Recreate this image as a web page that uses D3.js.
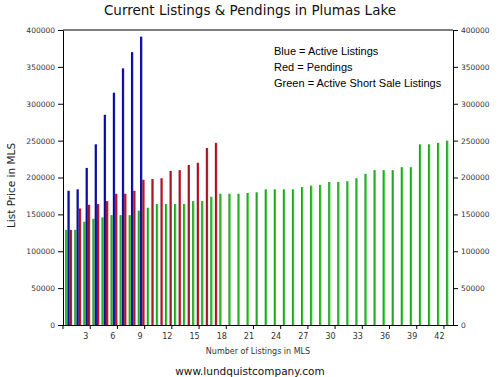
<!DOCTYPE html>
<html>
<head>
<meta charset="utf-8">
<script src="https://cdn.jsdelivr.net/npm/d3@7"></script>
<style>
  body { margin: 0; background: #fff; }
  text { font-family: "DejaVu Sans", sans-serif; }
</style>
</head>
<body>
<div id="chart"></div>
<script>
// listing number on the x axis
const listings = d3.range(1, 44);
const tickLabels = [3, 6, 9, 12, 15, 18, 21, 24, 27, 30, 33, 36, 39, 42];
const yTicks = [0, 50000, 100000, 150000, 200000, 250000, 300000, 350000, 400000];

// list prices
const activeListings = [182000, 184000, 213000, 245000, 285000, 315000, 348000, 370000, 391000];
const pendings = [129000, 158000, 163000, 164000, 168000, 178000, 178000, 182000, 197000,
  198000, 199000, 209000, 210000, 217000, 220000, 240000, 247000];
const shortSales = [129000, 129000, 140000, 144000, 146000, 149000, 149000, 149000, 155000,
  159000, 164000, 164000, 164000, 164000, 168000, 168000, 174000, 178000, 178000, 178000,
  179000, 180000, 184000, 184000, 184000, 184000, 187000, 189000, 190000, 194000, 194000,
  195000, 199000, 205000, 210000, 210000, 210000, 214000, 214000, 245000, 245000, 247000, 250000];

const series = [
  { key: "green", values: shortSales, dark: "#148a14", light: "#44dd44" },
  { key: "blue", values: activeListings, dark: "#000088", light: "#2222bb" },
  { key: "red", values: pendings, dark: "#7a1234", light: "#dd2222" }
];

const W = 500, H = 377;
const plotL = 63, plotR = 453, plotT = 30, plotB = 325;

const svg = d3.select("#chart").append("svg")
  .attr("width", W)
  .attr("height", H);

// gradients for the bars
const defs = svg.append("defs");
series.forEach(s => {
  const g = defs.append("linearGradient")
    .attr("id", "grad-" + s.key)
    .attr("x1", "0%").attr("x2", "100%")
    .attr("y1", "0%").attr("y2", "0%");
  g.append("stop").attr("offset", "0%").attr("stop-color", s.dark);
  g.append("stop").attr("offset", "100%").attr("stop-color", s.light);
});

const x = d3.scaleBand()
  .domain(listings)
  .range([plotL, plotR])
  .padding(0);

const x1 = d3.scaleBand()
  .domain(series.map(s => s.key))
  .range([x.bandwidth() * 0.24, x.bandwidth()])
  .padding(0);

const y = d3.scaleLinear()
  .domain([0, 400000])
  .range([plotB, plotT]);

// bars
series.forEach(s => {
  svg.append("g")
    .selectAll("rect")
    .data(s.values)
    .join("rect")
    .attr("x", (d, i) => x(listings[i]) + x1(s.key))
    .attr("y", d => y(d))
    .attr("width", x1.bandwidth())
    .attr("height", d => y(0) - y(d))
    .attr("fill", "url(#grad-" + s.key + ")");
});

// left axis
const yLeft = svg.append("g")
  .attr("transform", `translate(${plotL},0)`)
  .call(d3.axisLeft(y).tickValues(yTicks).tickFormat(d3.format("d")).tickSize(5).tickSizeOuter(0));
// right axis
const yRight = svg.append("g")
  .attr("transform", `translate(${plotR},0)`)
  .call(d3.axisRight(y).tickValues(yTicks).tickFormat(d3.format("d")).tickSize(5).tickSizeOuter(0));

[yLeft, yRight].forEach(a => {
  a.selectAll("text")
    .style("font-family", "'DejaVu Sans', sans-serif")
    .style("font-size", "7.5px")
    .attr("fill", "#333");
  a.select(".domain").attr("stroke", "#000");
});

// top border
svg.append("line")
  .attr("x1", plotL).attr("x2", plotR)
  .attr("y1", plotT).attr("y2", plotT)
  .attr("stroke", "#000");

// x axis: ticks at right edge of group, labels at group centre
const xAxis = svg.append("g");
xAxis.append("line")
  .attr("x1", plotL).attr("x2", plotR)
  .attr("y1", plotB + 0.5).attr("y2", plotB + 0.5)
  .attr("stroke", "#000");
xAxis.selectAll(".tk")
  .data(tickLabels)
  .join("line")
  .attr("class", "tk")
  .attr("x1", d => x(d) + x.bandwidth())
  .attr("x2", d => x(d) + x.bandwidth())
  .attr("y1", plotB)
  .attr("y2", plotB + 4)
  .attr("stroke", "#000");
xAxis.append("line")
  .attr("x1", plotL).attr("x2", plotL)
  .attr("y1", plotB).attr("y2", plotB + 4)
  .attr("stroke", "#000");
xAxis.selectAll(".lb")
  .data(tickLabels)
  .join("text")
  .attr("class", "lb")
  .attr("x", d => x(d) + x.bandwidth() / 2)
  .attr("y", plotB + 14)
  .attr("text-anchor", "middle")
  .attr("fill", "#333")
  .style("font-size", "8px")
  .text(d => d);

// titles
svg.append("text")
  .attr("x", 250).attr("y", 15)
  .attr("text-anchor", "middle")
  .style("font-size", "13.5px")
  .attr("fill", "#111")
  .text("Current Listings & Pendings in Plumas Lake");

svg.append("text")
  .attr("transform", `translate(15,${(plotT + plotB) / 2 + 8}) rotate(-90)`)
  .attr("text-anchor", "middle")
  .style("font-size", "10.5px")
  .attr("fill", "#222")
  .text("List Price in MLS");

svg.append("text")
  .attr("x", 258).attr("y", 354)
  .attr("text-anchor", "middle")
  .style("font-size", "8px")
  .attr("fill", "#333")
  .text("Number of Listings in MLS");

svg.append("text")
  .attr("x", 250).attr("y", 375)
  .attr("text-anchor", "middle")
  .style("font-size", "10.5px")
  .attr("fill", "#111")
  .text("www.lundquistcompany.com");

// legend note
const legendLines = ["Blue = Active Listings", "Red = Pendings", "Green = Active Short Sale Listings"];
svg.append("g")
  .selectAll("text")
  .data(legendLines)
  .join("text")
  .attr("x", 274)
  .attr("y", (d, i) => 55 + i * 16)
  .style("font-family", "'Liberation Sans', Arial, sans-serif")
  .style("font-size", "11px")
  .attr("fill", "#000")
  .text(d => d);
</script>
</body>
</html>
